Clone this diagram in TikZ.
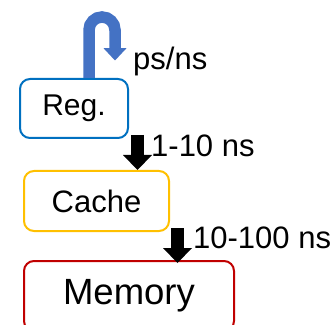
\documentclass[tikz,border=0pt]{standalone}
\usepackage{fontspec}
\setmainfont{Liberation Sans}
\usetikzlibrary{arrows.meta}
\definecolor{regblue}{HTML}{0070C0}
\definecolor{cacheyel}{HTML}{FFC000}
\definecolor{memred}{HTML}{C00000}
\definecolor{loopblue}{HTML}{4472C4}
\begin{document}
\begin{tikzpicture}[x=1pt,y=1pt,
  box/.style={draw,line width=2pt,rounded corners=10pt,inner sep=0pt,fill=white},
  lbl/.style={anchor=base west,inner sep=0pt,font=\fontsize{31}{37}\selectfont},
  blockarrow/.style={line width=13.6pt,-{Triangle[length=15pt,width=29pt,line width=0pt]}},
  looparrow/.style={loopblue,line width=11.5pt,-{Triangle[length=12.3pt,width=23pt,line width=0pt]}}]
\useasboundingbox (0,0) rectangle (334,324);
\node[box,draw=regblue,minimum width=108pt,minimum height=59pt,font=\fontsize{30}{36}\selectfont] (reg) at (74,215.5) {Reg.};
\node[box,draw=cacheyel,minimum width=145pt,minimum height=60pt,font=\fontsize{31}{37}\selectfont] (cache) at (96.5,123) {Cache};
\node[box,draw=memred,minimum width=210pt,minimum height=70pt,font=\fontsize{36.5}{44}\selectfont] (mem) at (129,28) {Memory};
\coordinate (l0) at ([xshift=15pt]reg.north);
\coordinate (a1) at (137.5,189);
\coordinate (a2) at (177.5,95.7);
\draw[looparrow] (l0) -- (89,294) arc[start angle=180,end angle=0,radius=13] -- (115,263.5);
\draw[blockarrow] (a1) -- (a1 |- cache.north);
\draw[blockarrow] (a2) -- ([yshift=-3pt]a2 |- mem.north);
\node[lbl] (t1) at (133,254) {ps/ns};
\node[lbl] (t2) at (151,167.3) {1-10 ns};
\node[lbl] (t3) at (193,75.7) {10-100 ns};
\end{tikzpicture}
\end{document}
